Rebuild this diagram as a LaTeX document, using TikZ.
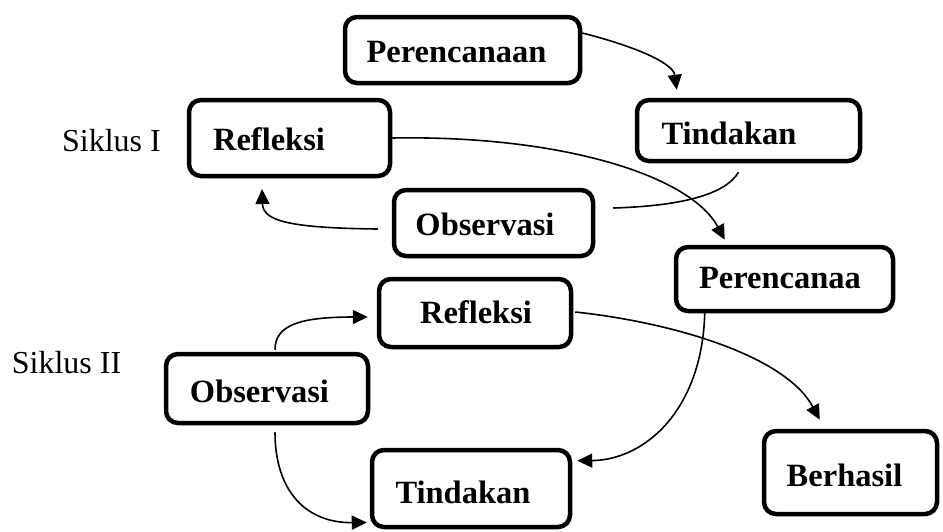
\documentclass[tikz,border=0pt]{standalone}
\usepackage{fontspec}
\setmainfont{Liberation Serif}
\usetikzlibrary{arrows.meta,calc}
\begin{document}
\begin{tikzpicture}[x=1pt,y=-1pt,
  box/.style={draw, line width=4.5pt, rounded corners=12pt, inner sep=0pt},
  lbl/.style={font=\fontsize{32.5}{38}\selectfont\bfseries, inner sep=0pt},
  cyc/.style={font=\fontsize{32}{38}\selectfont, inner sep=0pt},
  conn/.style={line width=1.6pt, -{Triangle[length=15pt,width=14pt]}},
  plainline/.style={line width=1.6pt}]
\useasboundingbox (0,0) rectangle (943,531);
% boxes
\node[box, minimum width=235pt, minimum height=66pt] (P1) at (462.5,50) {};
\node[box, minimum width=223pt, minimum height=61pt] (T1) at (748.5,130.5) {};
\node[box, minimum width=201pt, minimum height=76pt] (R1) at (289.5,138) {};
\node[box, minimum width=199pt, minimum height=66pt] (O1) at (493.5,223) {};
\node[box, minimum width=217pt, minimum height=64pt] (P2) at (784.5,279) {};
\node[box, minimum width=192pt, minimum height=68pt] (R2) at (475,313) {};
\node[box, minimum width=202pt, minimum height=69pt] (O2) at (267,388.5) {};
\node[box, minimum width=198pt, minimum height=77pt] (T2) at (471,488.5) {};
\node[box, minimum width=173pt, minimum height=83pt] (B) at (850.5,472.5) {};
% texts
\node[lbl] (P1t) at (456.5,52) {Perencanaan};
\node[lbl] (T1t) at (729,133.5) {Tindakan};
\node[lbl] (R1t) at (269,139) {Refleksi};
\node[lbl] (O1t) at (485,224) {Observasi};
\node[lbl] (P2t) at (780,278.5) {Perencanaa};
\node[lbl] (R2t) at (476,312.5) {Refleksi};
\node[lbl] (O2t) at (259.5,391) {Observasi};
\node[lbl] (T2t) at (463,492) {Tindakan};
\node[lbl] (Bt) at (844.5,475) {Berhasil};
\node[cyc] (S1) at (111.5,141) {Siklus I};
\node[cyc] (S2) at (66.5,362.5) {Siklus II};
% free ends
\coordinate (t1a) at ($(T1.south)+(-10,9)$);
\coordinate (o1a) at ($(O1.east)+(18,-15)$);
\coordinate (o1b) at ($(O1.west)+(-14,6)$);
\coordinate (r1a) at (262,189);
\coordinate (o2a) at ($(O2.north)+(8,-2)$);
\coordinate (o2b) at ($(O2.south)+(8,7)$);
% connectors
\draw[conn] ($(P1.east)+(0,-17)$) .. controls (630,45) and (673,62) .. ($(T1.north west)+(42,-8)$);
\draw[plainline] (t1a) .. controls (725,195) and (680,206) .. (o1a);
\draw[conn] (o1b) .. controls (285,228) and (263,220) .. (r1a);
\draw[conn] (R1.east) .. controls (560,135) and (690,175) .. ($(P2.north west)+(51,-5)$);
\draw[conn] (o2a) .. controls (275,325) and (300,317) .. ($(R2.west)+(-9,4)$);
\draw[conn] (o2b) .. controls (275,490) and (305,523) .. ($(T2.west)+(-3,34)$);
\draw[conn] ($(P2.south west)+(31,0)$) .. controls (702,410) and (645,460) .. ($(T2.north east)+(5,13)$);
\draw[conn] ($(R2.east)+(2,-1)$) .. controls (670,322) and (785,355) .. ($(B.north west)+(58,-9)$);
\end{tikzpicture}
\end{document}
